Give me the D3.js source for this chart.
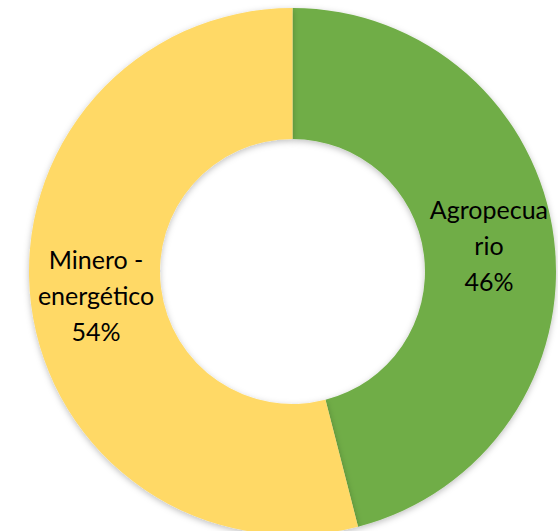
<!DOCTYPE html>
<html><head><meta charset="utf-8">
<script src="https://cdn.jsdelivr.net/npm/d3@7"></script>
<style>html,body{margin:0;padding:0;background:#fff;overflow:hidden}</style>
</head><body>
<svg id="chart" width="558" height="531"></svg>
<script>
const categories = ["Agropecuario", "Minero - energético"];
const values = [46, 54];
const labelLines = [["Agropecua", "rio", "46%"], ["Minero -", "energético", "54%"]];
const colors = ["#70AD47", "#FFD966"];

const svg = d3.select("#chart");
const cx = 292.5, cy = 271.5, rOuter = 263.5, rInner = 132.5;
const defs = svg.append("defs");
const f = defs.append("filter").attr("id", "sh").attr("x", "-10%").attr("y", "-10%").attr("width", "120%").attr("height", "120%");
f.append("feDropShadow").attr("dx", 0).attr("dy", 2).attr("stdDeviation", 3).attr("flood-color", "#000").attr("flood-opacity", 0.25);

const g = svg.append("g").attr("transform", `translate(${cx},${cy})`);
const pie = d3.pie().sort(null).value(d => d)(values);
const arc = d3.arc().innerRadius(rInner).outerRadius(rOuter);
g.selectAll("path").data(pie).join("path")
  .attr("d", arc).attr("fill", (d, i) => colors[i]).attr("filter", "url(#sh)");

const lh = 36;
pie.forEach((d, i) => {
  const [x, y] = arc.centroid(d);
  const lines = labelLines[i];
  const t = g.append("text").attr("text-anchor", "middle")
    .attr("font-family", "Lato, 'Open Sans', sans-serif").attr("font-size", 25).attr("fill", "#000");
  lines.forEach((s, k) => {
    t.append("tspan").attr("x", x).attr("y", y + (k - (lines.length - 1) / 2) * lh).attr("dy", "0.35em").text(s);
  });
});
</script>
</body></html>
